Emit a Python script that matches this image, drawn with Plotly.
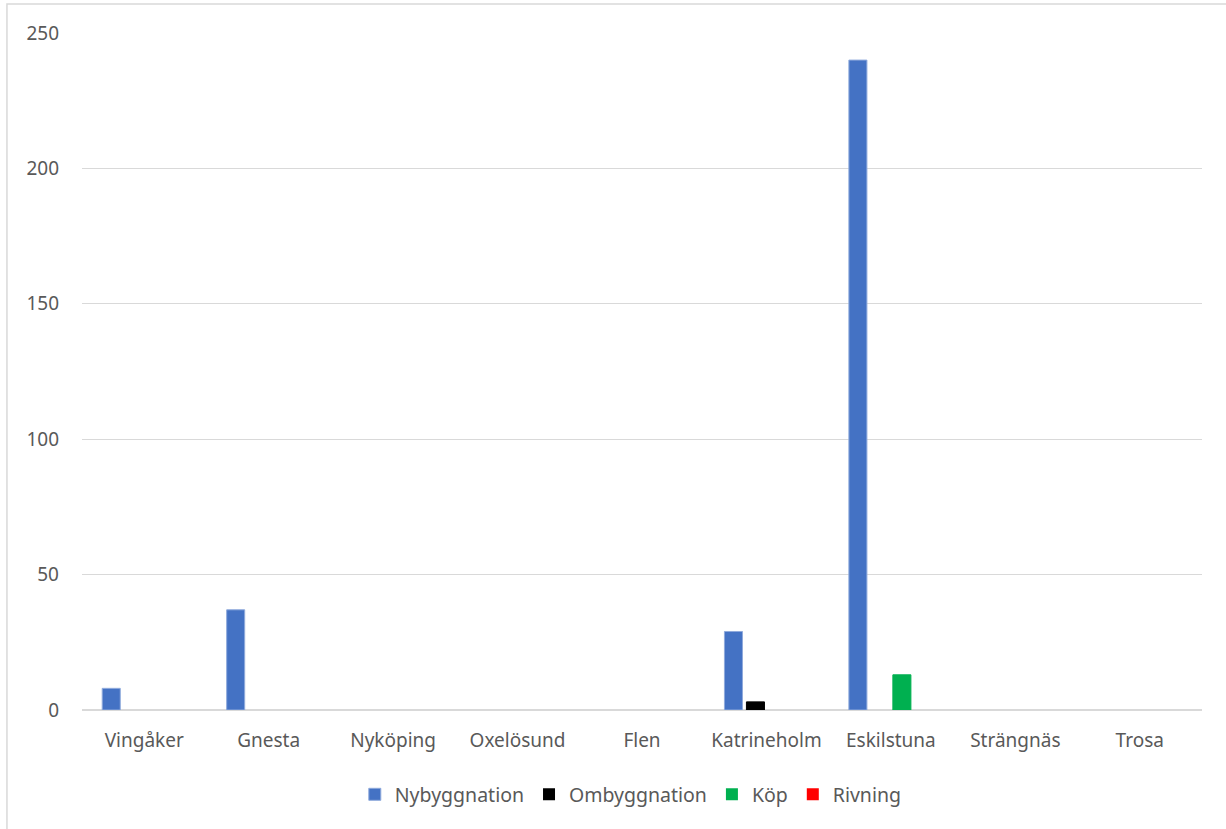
import plotly.graph_objects as go

kommuner = ["Vingåker", "Gnesta", "Nyköping", "Oxelösund", "Flen",
            "Katrineholm", "Eskilstuna", "Strängnäs", "Trosa"]
nybyggnation = [8, 37, 0, 0, 0, 29, 240, 0, 0]
ombyggnation = [0, 0, 0, 0, 0, 3, 0, 0, 0]
kop = [0, 0, 0, 0, 0, 0, 13, 0, 0]
rivning = [0, 0, 0, 0, 0, 0, 0, 0, 0]

serier = [
    ("Nybyggnation", nybyggnation, "#4472C4", "#8FAADC"),
    ("Ombyggnation", ombyggnation, "#000000", "#000000"),
    ("Köp", kop, "#00B050", "#00B050"),
    ("Rivning", rivning, "#FF0000", "#FF0000"),
]

FONT = "Noto Sans"
GREY = "#595959"

fig = go.Figure()
for namn, varden, farg, kant in serier:
    # outline only on bars that actually have height
    kantbredd = [1 if v > 0 else 0 for v in varden]
    fig.add_trace(go.Bar(
        x=kommuner, y=varden, name=namn,
        marker=dict(color=farg, line=dict(color=kant, width=kantbredd)),
    ))

fig.update_layout(
    width=1226, height=829,
    margin=dict(l=82, r=24, t=33, b=119),
    paper_bgcolor="white", plot_bgcolor="white",
    barmode="group", bargap=0.293, bargroupgap=0.18,
    font=dict(family=FONT, size=19, color=GREY),
    showlegend=True,
    legend=dict(orientation="h", x=0.49, xanchor="center",
                y=-0.125, yanchor="middle",
                font=dict(family=FONT, size=19.5, color=GREY),
                itemwidth=30, traceorder="normal"),
    xaxis=dict(showgrid=False, showline=False, ticks="",
               ticklabelstandoff=17,
               tickfont=dict(family=FONT, size=19, color=GREY)),
    yaxis=dict(range=[0, 250], tickvals=[0, 50, 100, 150, 200, 250],
               showgrid=True, gridcolor="#D9D9D9", gridwidth=1,
               zeroline=True, zerolinecolor="#D9D9D9", zerolinewidth=2,
               showline=False, ticks="", ticklabelstandoff=22,
               tickfont=dict(family=FONT, size=19, color=GREY)),
    shapes=[dict(type="rect", xref="paper", yref="paper",
                 x0=-0.067, x1=1.05, y0=-0.3, y1=1.0428,
                 line=dict(color="#D9D9D9", width=1.5),
                 fillcolor="rgba(0,0,0,0)", layer="below")],
)

fig.write_html("out.html")
